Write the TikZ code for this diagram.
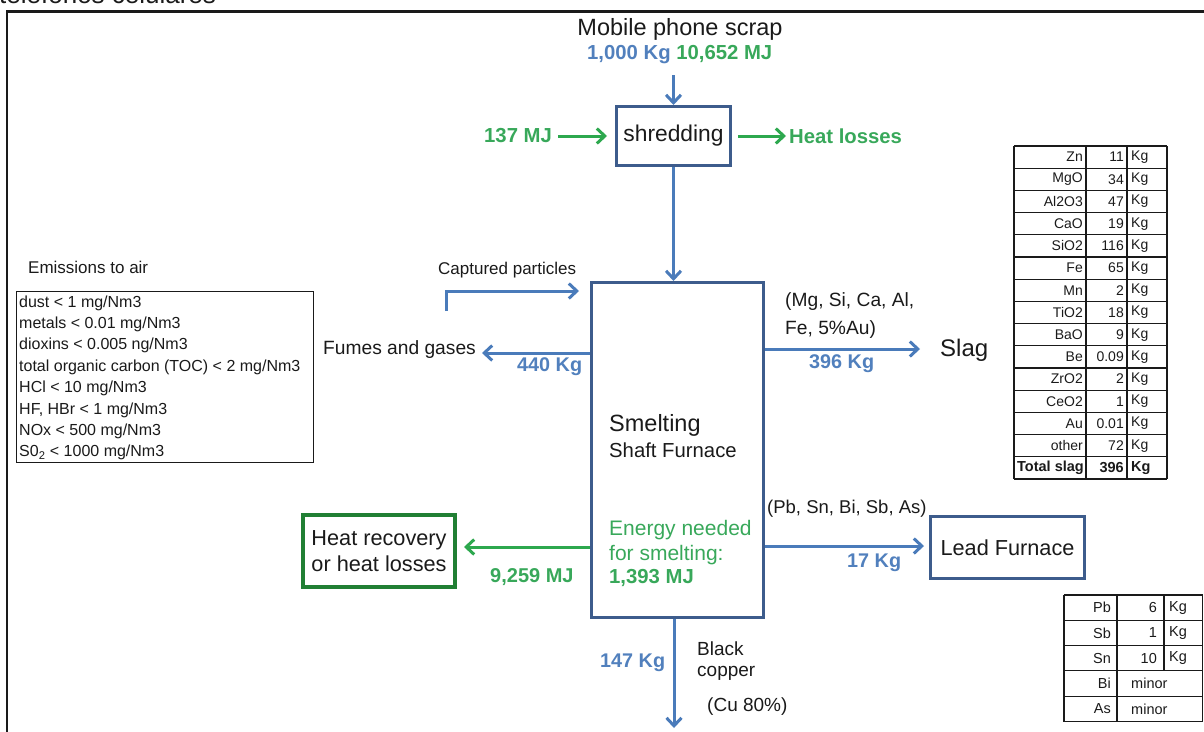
\documentclass[tikz,border=0pt]{standalone}
\usepackage{fontspec}
\setmainfont{Liberation Sans}
\usetikzlibrary{arrows.meta}
\definecolor{bt}{HTML}{5180BD}
\definecolor{ba}{HTML}{4A7BBA}
\definecolor{bb}{HTML}{3D5C8C}
\definecolor{gt}{HTML}{38A85A}
\definecolor{ga}{HTML}{2DA84E}
\definecolor{gb}{HTML}{217F34}
\definecolor{tx}{HTML}{1A1A1A}
\tikzset{
  fs/.style={font=\fontsize{#1}{#1}\selectfont},
  txt/.style={inner sep=0pt, text=tx},
  arr/.style={-{Straight Barb[length=8pt,width=15pt]}, line width=3pt, draw=ba},
  garr/.style={arr, draw=ga},
  box/.style={draw=bb, line width=3pt, inner sep=0pt, text=tx},
  tline/.style={line width=1.1pt, draw=tx},
}
\begin{document}
\begin{tikzpicture}[x=1pt,y=-1pt]
\useasboundingbox (0,0) rectangle (1204,731);
\begin{scope}
\clip (0,0) rectangle (1204,731);
\node[txt, fs=26, anchor=base west] (tel) at (-1,3) {teléfonos celulares};
\draw[line width=2.2pt, draw=tx] (7,740) -- (7,11.5) -- (1210,11.5);

% top input
\node[txt, fs=23.5] (mps) at (680,29) {Mobile phone scrap};
\node[txt, fs=20.3, anchor=west] (inmass) at (587,55) {\bfseries\color{bt}1,000 Kg \color{gt}10,652 MJ};
\coordinate (inA) at (673.5,75);

% shredding
\node[box, fs=22.8, minimum width=114, minimum height=59] (shred) at (673.5,136) {shredding};
\draw[arr] (inA) -- (shred.north);
\node[txt, fs=20.3, text=gt, anchor=west] (e137) at (484,136) {\bfseries 137 MJ};
\draw[garr, shorten <=6pt, shorten >=8pt] (e137.east) -- (shred.west);
\node[txt, fs=20.3, text=gt, anchor=west] (hl) at (789,136) {\bfseries Heat losses};
\draw[garr, shorten <=6pt, shorten >=3pt] (shred.east) -- (hl.west);

% smelting
\node[box, minimum width=172, minimum height=335] (smelt) at (677.5,450) {};
\draw[arr] (shred.south) -- (shred.south |- smelt.north);
\node[txt, fs=23.5, anchor=west] (sm1) at (609,425) {Smelting};
\node[txt, fs=20.3, anchor=west] (sm2) at (609,450) {Shaft Furnace};
\node[txt, fs=21, text=gt, anchor=west] (en1) at (609,530) {Energy needed};
\node[txt, fs=21, text=gt, anchor=west] (en2) at (609,555) {for smelting:};
\node[txt, fs=20.3, text=gt, anchor=west] (en3) at (609,578) {\bfseries 1,393 MJ};

% captured particles
\node[txt, fs=17, anchor=west] (cap) at (438,270) {Captured particles};
\coordinate (capS) at (446,311);
\draw[arr, shorten >=11pt] (capS) |- (smelt.west |- 0,291);

% fumes
\node[txt, fs=19.2, anchor=west] (fumes) at (323,350) {Fumes and gases};
\coordinate (fumT) at (482,353);
\draw[arr] (smelt.west |- fumT) -- (fumT);
\node[txt, fs=19.8, text=bt, anchor=west] (m440) at (517,367) {\bfseries 440 Kg};

% emissions
\node[txt, fs=17, anchor=west] (emt) at (28,267) {Emissions to air};
\node[draw=tx, line width=1.3pt, minimum width=297, minimum height=171, inner sep=0pt] (emis) at (165,377) {};
\foreach \t [count=\i from 0] in {{dust < 1 mg/Nm3},{metals < 0.01 mg/Nm3},{dioxins < 0.005 ng/Nm3},{total organic carbon (TOC) < 2 mg/Nm3},{HCl < 10 mg/Nm3},{HF, HBr < 1 mg/Nm3},{NOx < 500 mg/Nm3},{S0\textsubscript{2} < 1000 mg/Nm3}}
  \node[txt, fs=16, anchor=west] (em\i) at (19,{303+\i*21.4}) {\t};

% slag
\coordinate (slagT) at (920,349);
\draw[arr] (smelt.east |- slagT) -- (slagT);
\node[txt, fs=19.2, anchor=west] (sl1) at (785,302) {(Mg, Si, Ca, Al,};
\node[txt, fs=19.2, anchor=west] (sl2) at (785,330) {Fe, 5\%Au)};
\node[txt, fs=19.8, text=bt, anchor=west] (m396) at (809,364) {\bfseries 396 Kg};
\node[txt, fs=24, anchor=west] (slag) at (940,350) {Slag};

% lead furnace
\node[box, fs=21.7, minimum width=154, minimum height=62] (lead) at (1007.5,547.5) {Lead Furnace};
\draw[arr, shorten >=5pt] (smelt.east |- 0,546) -- (lead.west |- 0,546);
\node[txt, fs=18.5, anchor=west] (pb) at (767,509) {(Pb, Sn, Bi, Sb, As)};
\node[txt, fs=19.8, text=bt, anchor=west] (m17) at (847,563) {\bfseries 17 Kg};

% heat recovery
\node[draw=gb, line width=4pt, minimum width=152, minimum height=72, inner sep=0pt, text=tx, align=left, font=\fontsize{21.7}{26}\selectfont] (heat) at (379,551) {Heat recovery\\or heat losses};
\draw[garr, shorten >=7pt] (smelt.west |- 0,547) -- (heat.east |- 0,547);
\node[txt, fs=20, text=gt, anchor=west] (m9259) at (490,577) {\bfseries 9,259 MJ};

% black copper
\coordinate (cuT) at (674,728);
\draw[arr] (smelt.south -| cuT) -- (cuT);
\node[txt, fs=19.8, text=bt, anchor=west] (m147) at (600,663) {\bfseries 147 Kg};
\node[txt, fs=19, anchor=west] (bc1) at (697,649) {Black};
\node[txt, fs=19, anchor=west] (bc2) at (697,673) {copper};
\node[txt, fs=19, anchor=west] (cu) at (707,707) {(Cu 80\%)};

% slag table
\foreach \k in {0,...,15} \draw[tline] (1014,{146+\k*22.2}) -- (1167,{146+\k*22.2});
\foreach \x in {1014,1086,1127,1167} \draw[tline] (\x,146) -- (\x,479);
\foreach \a/\b [count=\i] in {Zn/11,MgO/34,Al2O3/47,CaO/19,SiO2/116,Fe/65,Mn/2,TiO2/18,BaO/9,Be/0.09,ZrO2/2,CeO2/1,Au/0.01,other/72} {
  \node[txt, fs=14, anchor=east] (sa\i) at (1083,{146+(\i-0.5)*22.2}) {\a};
  \node[txt, fs=14, anchor=east] (sb\i) at (1124,{146+(\i-0.5)*22.2}) {\b};
  \node[txt, fs=14, anchor=west] (sc\i) at (1131,{146+(\i-0.5)*22.2}) {Kg};
}
\node[txt, fs=14.5, anchor=east] (sat) at (1084,{146+14.5*22.2}) {\bfseries Total slag};
\node[txt, fs=14.5, anchor=east] (sbt) at (1124,{146+14.5*22.2}) {\bfseries 396};
\node[txt, fs=14.5, anchor=west] (sct) at (1131,{146+14.5*22.2}) {\bfseries Kg};

% lead table
\foreach \k in {0,...,5} \draw[tline] (1064,{595+\k*25.3}) -- (1203,{595+\k*25.3});
\foreach \x in {1064,1117,1202.5} \draw[tline] (\x,595) -- (\x,721.5);
\draw[tline] (1164,595) -- (1164,{595+3*25.3});
\foreach \a/\b [count=\i] in {Pb/6,Sb/1,Sn/10} {
  \node[txt, fs=14.5, anchor=east] (la\i) at (1111,{595+(\i-0.5)*25.3}) {\a};
  \node[txt, fs=14.5, anchor=east] (lb\i) at (1157,{595+(\i-0.5)*25.3}) {\b};
  \node[txt, fs=14.5, anchor=west] (lc\i) at (1169,{595+(\i-0.5)*25.3}) {Kg};
}
\foreach \a [count=\i from 4] in {Bi,As} {
  \node[txt, fs=14.5, anchor=east] (la\i) at (1111,{595+(\i-0.5)*25.3}) {\a};
  \node[txt, fs=14.5, anchor=west] (lm\i) at (1131,{595+(\i-0.5)*25.3}) {minor};
}
\end{scope}
\end{tikzpicture}
\end{document}
